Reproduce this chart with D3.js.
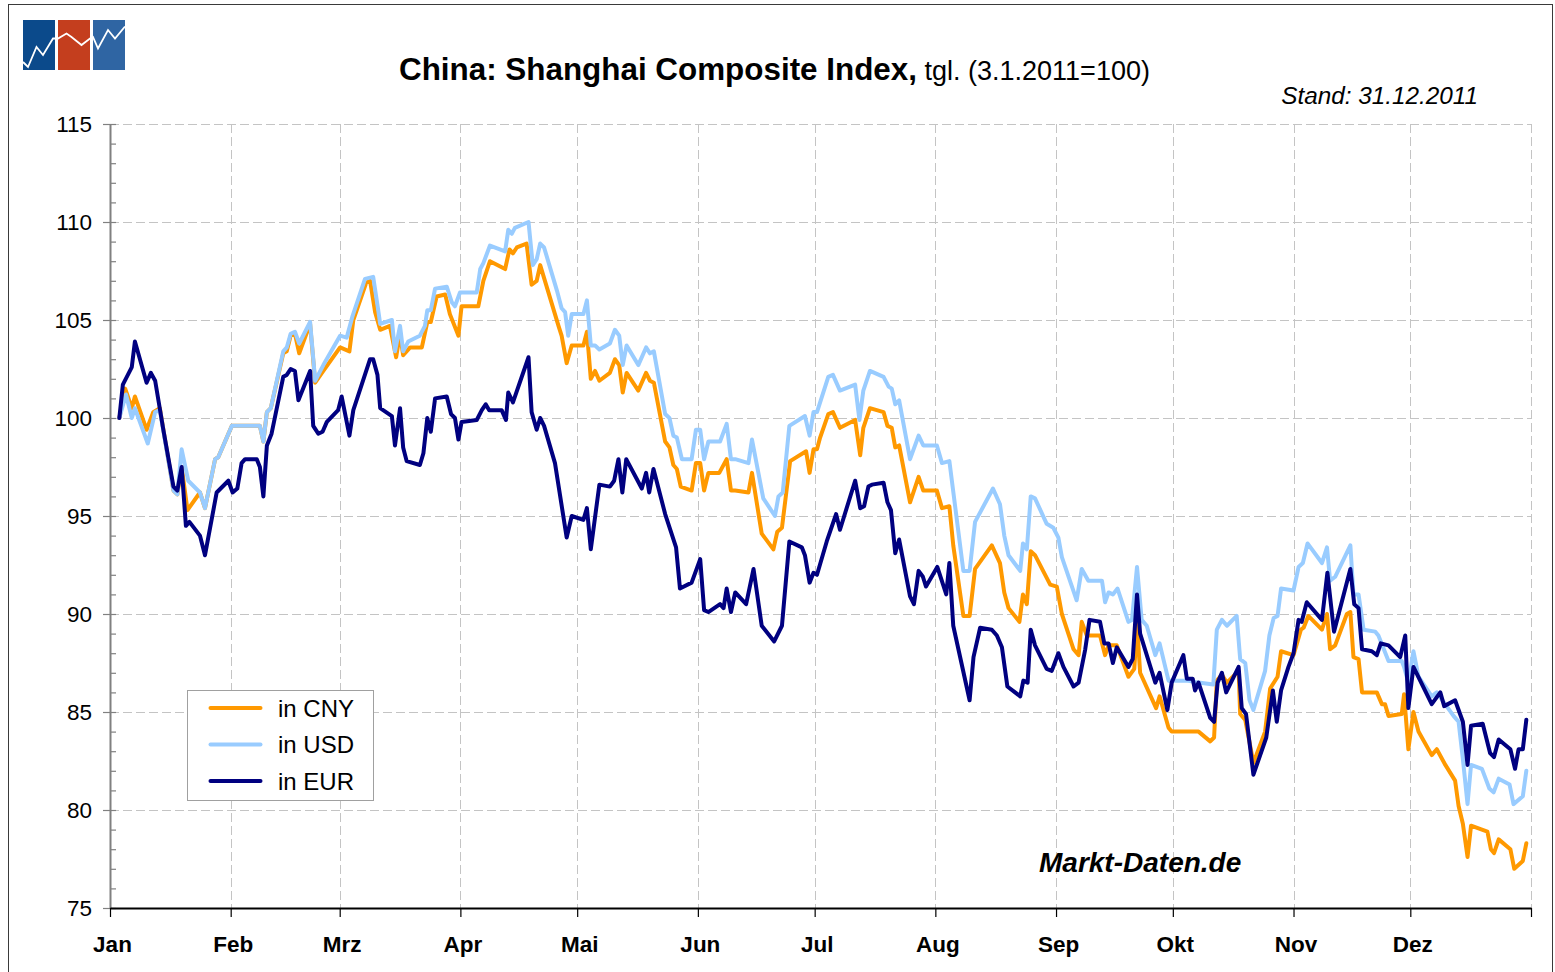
<!DOCTYPE html>
<html><head><meta charset="utf-8">
<script src="https://cdn.jsdelivr.net/npm/d3@7"></script>
<style>
html,body{margin:0;padding:0;background:#fff;}
svg{display:block;font-family:"Liberation Sans",Arial,Helvetica,sans-serif;}
</style></head><body>
<svg id="chart" width="1555" height="972"></svg>
<script>
// ---------- data ----------
const months = ["Jan","Feb","Mrz","Apr","Mai","Jun","Jul","Aug","Sep","Okt","Nov","Dez"];
const yTicks = [75,80,85,90,95,100,105,110,115];
const seriesNames = ["in CNY","in USD","in EUR"];
const seriesColors = ["#FF9900","#99CCFF","#000080"];

// day of year 2011 (0 = 1 Jan) and index values (3.1.2011 = 100)
const cnyDay = [2.4,3.9,5.6,6.4,9.4,11.1,12.8,16.3,17.3,18.4,19.9,23.1,24.4,27.0,27.8,31.3,38.5,39.4,40.3,41.3,44.5,45.4,46.4,47.5,48.6,51.4,52.7,54.8,59.1,61.5,62.5,65.8,66.8,68.1,69.4,71.9,73.5,74.5,75.3,77.1,80.1,81.5,82.4,83.9,86.1,87.3,89.5,90.3,94.6,95.9,97.6,101.5,102.6,103.5,104.5,107.0,108.3,109.6,110.5,115.2,116.0,117.3,118.6,121.6,122.5,123.5,124.6,125.7,128.4,129.7,130.8,131.7,132.7,135.7,137.7,138.7,139.7,142.6,143.7,144.7,145.6,146.6,149.4,150.5,151.6,152.6,153.7,156.5,158.4,159.5,160.6,164.0,164.9,167.4,170.4,171.4,172.6,174.7,178.8,179.7,180.7,181.6,182.4,184.5,185.7,187.5,191.4,192.7,193.5,195.2,198.7,199.7,200.8,201.7,202.7,205.5,207.7,208.9,212.4,213.7,215.6,216.6,219.2,220.8,222.2,226.5,228.6,229.7,230.8,233.6,234.5,235.5,236.5,237.6,241.5,243.2,244.5,247.5,248.8,249.6,250.9,254.3,255.6,256.5,258.6,261.6,263.1,263.8,264.6,268.7,269.6,271.9,272.7,279.6,282.6,283.6,284.3,285.6,286.9,289.9,290.3,291.6,293.7,296.7,298.0,299.9,300.8,304.0,305.9,306.6,307.8,311.3,312.6,313.4,314.7,317.7,318.6,319.4,320.7,321.6,325.4,326.7,327.5,328.4,331.8,332.4,333.5,334.8,336.1,339.5,340.8,343.0,345.5,346.4,347.5,348.7,349.6,353.8,354.7,355.5,356.7,359.7,360.7,362.9,363.8];
const cnyVal = [100.0,101.5,100.5,101.1,99.4,100.3,100.5,96.3,96.1,97.5,95.3,96.2,95.4,97.9,98.0,99.6,99.6,98.8,100.3,100.5,103.3,103.4,104.2,104.3,103.3,104.8,101.8,102.4,103.6,103.4,105.0,106.9,107.0,105.4,104.5,104.7,103.1,104.3,103.2,103.6,103.6,104.9,104.9,106.2,106.3,105.3,104.2,105.7,105.7,107.0,108.0,107.6,108.6,108.4,108.7,108.9,106.8,107.0,107.8,104.7,104.2,102.8,103.7,103.7,104.4,102.0,102.4,101.9,102.3,103.0,102.7,101.3,102.3,101.4,102.3,101.9,101.8,98.8,98.5,97.6,97.4,96.5,96.3,97.7,97.7,96.3,97.2,97.2,97.9,96.3,96.3,96.2,97.2,94.1,93.3,94.2,94.4,97.8,98.3,97.2,98.4,98.4,99.0,100.2,100.3,99.5,99.9,98.1,99.5,100.5,100.3,99.6,99.5,98.5,98.6,95.7,97.0,96.3,96.3,95.4,95.5,93.5,89.9,89.9,92.3,93.5,92.6,91.1,90.3,89.6,91.0,90.5,93.2,93.0,91.5,91.4,90.0,88.2,87.9,89.6,88.9,88.9,87.9,88.4,88.4,86.8,87.2,89.5,87.0,85.2,85.8,84.2,84.0,84.0,83.5,83.7,86.6,86.9,86.5,87.1,84.9,84.6,82.4,84.0,86.2,86.8,88.1,87.9,89.2,89.3,89.9,89.2,90.0,88.2,88.4,90.0,90.1,87.8,87.7,86.0,86.0,85.4,85.4,84.8,84.9,85.9,83.1,85.0,84.0,82.8,83.1,82.3,81.5,80.2,79.3,77.6,79.2,78.9,78.0,77.8,78.5,78.0,77.0,77.4,78.3];

const usdDay = [2.4,4.1,5.6,6.4,9.7,11.6,12.8,16.3,17.3,18.4,20.1,23.1,24.4,27.0,27.8,31.3,38.5,39.4,40.3,41.3,44.5,45.4,46.4,47.5,48.6,51.4,52.7,54.8,59.1,60.8,62.3,65.5,67.6,68.9,69.4,72.4,73.2,74.5,75.3,76.6,79.6,80.9,81.5,82.4,83.5,86.5,87.8,88.6,89.9,94.2,95.1,95.9,97.6,101.5,102.3,103.2,104.0,107.5,108.6,109.6,110.5,111.5,114.8,116.0,116.9,117.7,118.6,121.6,122.5,123.5,124.6,125.7,128.4,129.7,130.8,131.7,132.7,135.7,137.7,138.7,139.7,142.6,143.7,144.7,145.6,146.9,149.4,150.5,151.6,152.6,153.7,156.7,158.4,159.5,160.6,164.0,164.9,167.8,170.8,171.7,172.8,174.5,178.5,179.7,180.7,181.6,184.5,185.7,187.5,191.4,192.5,193.5,195.2,198.7,200.0,200.8,201.7,202.7,205.5,207.7,208.9,212.4,213.7,215.6,219.2,220.8,222.2,226.8,228.6,229.7,230.8,233.8,234.5,235.5,236.5,237.6,240.6,242.3,243.6,244.5,248.3,249.6,251.3,254.8,255.6,256.5,257.6,258.8,261.6,262.5,263.8,265.0,266.3,268.5,269.6,271.9,276.6,279.6,283.4,284.3,285.6,286.9,289.4,290.3,291.6,292.7,293.7,296.7,297.8,298.9,299.9,300.8,304.0,305.3,306.4,307.6,311.3,312.6,313.4,314.7,318.6,319.4,320.7,322.0,325.0,325.8,328.4,331.8,332.4,333.5,334.8,336.1,339.5,340.8,345.1,346.4,347.5,348.7,349.6,352.4,354.3,355.4,356.7,359.5,360.5,362.9,363.8];
const usdVal = [100.0,101.2,100.0,100.5,98.7,100.3,100.4,96.3,96.1,98.4,96.8,96.2,95.4,97.9,98.0,99.6,99.6,98.8,100.3,100.5,103.4,103.6,104.3,104.4,103.8,104.9,101.9,102.7,104.2,104.1,105.2,107.1,107.2,105.5,104.8,105.0,103.4,104.7,103.4,103.9,104.2,104.7,105.5,105.5,106.6,106.7,105.9,105.7,106.4,106.4,107.6,107.9,108.8,108.5,109.6,109.4,109.7,110.0,107.8,108.1,108.9,108.7,106.5,105.6,105.4,104.2,105.3,105.3,106.0,103.7,103.7,103.5,103.8,104.5,104.2,102.7,103.7,102.7,103.6,103.3,103.4,100.2,100.0,99.1,99.0,97.9,97.9,99.4,99.4,97.9,98.8,98.8,99.7,97.9,97.9,97.7,98.9,95.9,95.0,96.0,96.2,99.6,100.1,99.1,100.3,100.3,102.1,102.2,101.4,101.7,99.9,101.4,102.4,102.1,101.6,101.5,100.7,100.9,97.9,99.1,98.6,98.6,97.7,97.8,92.2,92.2,94.7,96.4,95.6,94.0,93.0,92.2,93.6,93.3,96.0,95.9,94.6,94.4,93.9,92.9,90.7,92.3,91.7,91.7,90.6,91.1,91.0,91.3,89.6,89.7,92.4,89.7,89.4,87.9,88.5,86.6,86.6,86.5,86.4,89.2,89.7,89.4,89.9,87.7,87.5,85.6,85.1,87.1,88.9,89.8,89.9,91.3,91.2,92.4,92.6,93.6,92.6,93.4,91.7,91.9,93.5,91.0,91.0,89.2,89.1,88.9,87.6,87.6,87.3,86.5,88.1,86.8,85.8,86.0,84.8,84.5,82.6,80.3,82.3,82.1,81.1,80.9,81.6,81.3,80.3,80.7,82.0];

const eurDay = [2.4,3.3,5.6,6.4,9.4,10.5,11.6,13.7,16.3,17.3,18.4,19.5,20.4,23.1,24.4,27.4,30.4,31.5,32.7,33.8,34.7,37.7,38.5,39.4,40.3,41.5,44.5,45.4,46.4,47.5,48.4,51.4,52.2,53.5,54.6,55.7,58.6,59.5,61.5,62.5,66.8,67.6,68.7,69.4,72.4,73.2,74.5,75.3,76.2,79.6,80.5,81.5,82.4,83.5,86.5,87.6,88.6,89.5,90.3,94.2,95.5,96.5,97.4,100.6,101.7,102.3,103.5,107.5,108.3,109.6,110.5,111.5,114.3,117.3,118.6,121.6,122.5,123.5,125.7,128.4,129.5,130.6,131.6,132.6,136.6,137.7,138.5,139.6,142.6,145.4,146.4,149.4,151.6,152.6,153.7,156.7,157.6,158.4,159.5,160.6,163.4,165.3,167.4,170.6,172.6,174.5,177.7,178.5,179.7,180.7,181.6,184.1,186.5,187.5,191.4,192.7,193.7,194.8,195.7,198.7,199.7,200.6,201.7,202.7,205.5,206.5,207.7,208.8,209.6,212.5,214.8,215.6,216.6,220.8,221.8,223.5,226.5,227.8,229.1,230.5,233.8,234.6,235.7,236.5,237.6,240.6,241.9,243.6,244.9,247.5,248.8,250.5,251.6,254.3,255.4,256.5,257.6,258.6,261.6,262.7,263.8,264.6,268.5,269.6,271.6,272.7,275.7,276.6,278.1,278.7,279.6,282.6,283.6,284.5,285.6,286.7,289.9,290.7,291.8,293.7,297.0,298.7,299.7,300.8,302.7,304.0,305.3,306.1,307.4,311.3,312.7,314.4,318.6,319.6,320.7,321.6,324.1,325.4,326.4,328.4,331.4,332.7,333.5,334.8,339.5,341.7,342.7,345.5,347.5,348.7,349.6,352.6,354.5,355.5,356.7,359.7,360.9,361.8,362.9,363.8];
const eurVal = [100.0,101.7,102.6,103.9,101.8,102.3,101.9,99.4,96.5,96.3,97.5,94.5,94.7,94.0,93.0,96.2,96.8,96.2,96.4,97.7,97.9,97.9,97.5,96.0,98.6,99.2,102.1,102.2,102.5,102.4,100.9,102.4,99.6,99.2,99.3,99.8,100.4,101.1,99.1,100.4,103.0,103.0,102.2,100.5,100.1,98.6,100.5,98.5,97.8,97.6,98.2,100.0,99.3,101.0,101.1,100.2,100.0,98.9,99.8,99.9,100.4,100.7,100.4,100.4,99.9,101.3,100.8,103.1,100.3,99.4,100.0,99.6,97.7,93.9,95.0,94.8,95.4,93.3,96.6,96.5,96.8,97.9,96.2,97.9,96.4,97.2,96.2,97.4,95.1,93.4,91.3,91.6,92.8,90.2,90.1,90.5,90.3,91.3,90.1,91.1,90.5,92.3,89.4,88.6,89.4,93.7,93.4,93.0,91.6,92.1,92.0,93.7,95.1,94.3,96.8,95.4,95.5,96.5,96.6,96.7,95.7,95.3,93.1,93.8,90.9,90.5,92.2,91.9,91.4,92.4,91.0,92.6,89.4,85.6,87.8,89.3,89.2,88.9,88.3,86.3,85.8,86.6,86.5,89.2,88.4,87.2,87.1,88.0,87.3,86.3,86.5,88.2,89.7,89.6,88.5,88.5,87.5,88.3,87.3,87.7,91.0,89.0,86.5,87.0,85.1,86.5,87.9,86.7,86.7,86.1,86.5,84.7,84.5,86.5,87.0,86.0,87.3,85.2,84.9,81.8,83.7,86.1,84.5,86.1,87.3,88.0,89.7,89.6,90.6,89.7,92.1,89.1,92.3,90.5,90.3,88.2,88.1,87.9,88.5,88.4,87.8,88.9,85.2,87.3,85.4,86.0,85.3,85.6,84.5,82.3,84.3,84.4,82.9,82.7,83.6,83.1,82.1,83.1,83.1,84.6];

// ---------- chart ----------
const svg = d3.select("#chart");
const P = {left:110, right:1531, top:124, bottom:908};
const t0 = Date.UTC(2011,0,1);
const toDate = d => new Date(t0 + d*864e5);
const x = d3.scaleUtc().domain([new Date(Date.UTC(2011,0,1)), new Date(Date.UTC(2012,0,1))]).range([P.left,P.right]);
const y = d3.scaleLinear().domain([75,115]).range([P.bottom,P.top]);
const monthTicks = d3.utcMonth.range(new Date(Date.UTC(2011,0,1)), new Date(Date.UTC(2012,0,2)));

// frame
svg.append("rect").attr("x",8.5).attr("y",4.5).attr("width",1544).attr("height",990)
  .attr("fill","none").attr("stroke","#3a3a3a").attr("stroke-width",1);

// logo
const logo = svg.append("g").attr("transform","translate(23,20)");
[["#0b4a8b",0],["#c43e1e",35],["#2f65a3",70]].forEach(([c,dx]) =>
  logo.append("rect").attr("x",dx).attr("y",0).attr("width",32).attr("height",50).attr("fill",c));
logo.append("path")
  .attr("d","M0,42 L5,47 L13.5,27 L20,35 L30,18.5 L35,18.5 L43.5,13.5 L48.5,17 L58.5,25 L67,18.5 L70,17 L75,28.5 L85,10 L92,18.5 L102,6.5")
  .attr("fill","none").attr("stroke","#fff").attr("stroke-width",1.8);

// grid
const grid = svg.append("g").attr("stroke","#c4c4c4").attr("stroke-width",1).attr("stroke-dasharray","9,4");
grid.selectAll("line.h").data(yTicks.filter(v => v > 75)).join("line").attr("class","h")
  .attr("x1",P.left).attr("x2",P.right).attr("y1",d=>y(d)+0.5).attr("y2",d=>y(d)+0.5);
grid.selectAll("line.v").data(monthTicks.slice(1)).join("line").attr("class","v")
  .attr("x1",d=>Math.round(x(d))+0.5).attr("x2",d=>Math.round(x(d))+0.5).attr("y1",P.top).attr("y2",P.bottom);

// y axis: minor ticks (inside), major ticks (crossing) with labels
const yMinor = svg.append("g").attr("transform",`translate(${P.left},0)`)
  .call(d3.axisRight(y).tickValues(d3.range(75,116,1)).tickSize(6).tickFormat(""));
yMinor.select(".domain").remove();
yMinor.selectAll("line").attr("stroke","#808080").attr("stroke-width",1.2);

const yAx = svg.append("g").attr("transform",`translate(${P.left},0)`)
  .call(d3.axisLeft(y).tickValues(yTicks).tickSizeInner(7).tickSizeOuter(0).tickPadding(11));
yAx.select(".domain").attr("stroke","#808080").attr("stroke-width",2);
yAx.selectAll("line").attr("stroke","#808080").attr("stroke-width",1.2);
yAx.selectAll("text").attr("font-size",22.5).attr("font-family","Liberation Sans, Arial, sans-serif").attr("fill","#000");

// x axis
const xAx = svg.append("g").attr("transform",`translate(0,${P.bottom})`)
  .call(d3.axisBottom(x).tickValues(monthTicks).tickSizeInner(9).tickSizeOuter(0).tickPadding(19)
    .tickFormat((d,i) => i < months.length ? months[i] : ""));
xAx.select(".domain").attr("stroke","#000").attr("stroke-width",2);
xAx.selectAll("line").attr("stroke","#000").attr("stroke-width",1.2);
xAx.selectAll("text").attr("font-size",22.5).attr("font-weight","bold").attr("dx",2)
  .attr("font-family","Liberation Sans, Arial, sans-serif").attr("fill","#000");

// lines
const series = [[cnyDay,cnyVal],[usdDay,usdVal],[eurDay,eurVal]].map(([ds,vs],k) => ({
  name: seriesNames[k], color: seriesColors[k],
  pts: ds.map((d,i) => ({date: toDate(d), v: vs[i]}))
}));
const line = d3.line().x(p => x(p.date)).y(p => y(p.v));
svg.append("g").selectAll("path").data(series).join("path")
  .attr("d", s => line(s.pts)).attr("fill","none").attr("stroke", s => s.color)
  .attr("stroke-width",4).attr("stroke-linejoin","round").attr("stroke-linecap","round");

// legend
const lg = svg.append("g").attr("transform","translate(187.5,690.5)");
lg.append("rect").attr("width",186).attr("height",110).attr("fill","#fff").attr("stroke","#a0a0a0").attr("stroke-width",1);
series.forEach((s,i) => {
  const yy = 17.5 + i*36.5;
  lg.append("line").attr("x1",23).attr("x2",73).attr("y1",yy).attr("y2",yy)
    .attr("stroke",s.color).attr("stroke-width",4).attr("stroke-linecap","round");
  lg.append("text").attr("x",90.5).attr("y",yy).attr("dy","0.36em").attr("font-size",24).attr("fill","#000").text(s.name);
});

// titles
const title = svg.append("text").attr("x",399).attr("y",80).attr("fill","#000");
title.append("tspan").attr("font-weight","bold").attr("font-size",31.4).text("China: Shanghai Composite Index,");
title.append("tspan").attr("font-size",27).text(" tgl. (3.1.2011=100)");

svg.append("text").attr("x",1478).attr("y",104).attr("text-anchor","end")
  .attr("font-style","italic").attr("font-size",24.3).attr("fill","#000").text("Stand: 31.12.2011");

svg.append("text").attr("x",1039).attr("y",872)
  .attr("font-style","italic").attr("font-weight","bold").attr("font-size",28).attr("fill","#000").text("Markt-Daten.de");
</script>
</body></html>
